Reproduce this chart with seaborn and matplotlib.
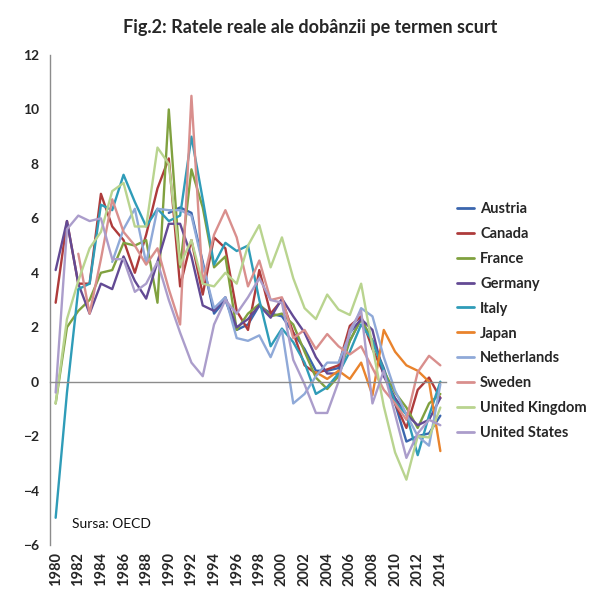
import numpy as np
import pandas as pd
import matplotlib
matplotlib.use("Agg")
import matplotlib.pyplot as plt
import seaborn as sns

years = list(range(1980, 2015))
N = np.nan

austria = [N]*10 + [6.2, 6.4, 6.2, 4.4, 2.5, 3.0, 1.9, 2.1, 2.8, 2.5,
                    2.4, 1.8, 1.2, 0.4, 0.4, 0.5, 1.5, 2.3, 1.5, 0.5,
                    -0.8, -2.2, -2.0, -1.9, -1.25]
canada = [2.9, 5.9, 3.6, 3.6, 6.9, 5.7, 5.2, 4.0, 5.4, 7.1,
          8.2, 3.5, 5.2, 3.2, 5.3, 4.9, 2.6, 1.9, 4.1, 2.5,
          3.0, 1.8, 0.6, 0.3, 0.45, 0.6, 2.05, 2.4, 1.2, 0.3,
          -0.8, -1.7, -0.3, 0.15, -0.6]
france = [-0.8, 2.0, 2.6, 3.0, 4.0, 4.1, 5.1, 5.0, 5.2, 2.9,
          10.0, 4.2, 7.8, 6.4, 4.2, 4.6, 1.9, 2.5, 2.85, 2.4,
          2.5, 2.1, 1.1, 0.15, -0.27, 0.2, 1.5, 2.3, 1.5, 0.4,
          -0.4, -0.95, -1.7, -0.8, -0.45]
germany = [4.1, 5.9, 3.6, 2.5, 3.6, 3.4, 4.6, 3.7, 3.05, 4.4,
           5.8, 5.8, 4.6, 2.8, 2.6, 3.1, 2.0, 2.3, 2.8, 2.35,
           3.05, 2.4, 1.8, 0.9, 0.3, 0.3, 1.8, 2.3, 1.9, 0.2,
           -0.6, -1.2, -1.6, -1.4, -0.6]
italy = [-5.0, -0.4, 3.4, 3.6, 6.5, 6.3, 7.6, 6.6, 5.7, 6.35,
         5.9, 6.1, 9.0, 6.7, 4.3, 5.1, 4.8, 5.0, 3.0, 1.3,
         1.95, 1.45, 0.7, -0.45, -0.2, 0.3, 1.1, 2.1, 1.5, 0.4,
         -0.75, -1.2, -2.7, -1.25, 0.0]
japan = [N]*23 + [0.35, 0.1, 0.4, 0.1, 0.7, -0.5, 1.9, 1.1, 0.6, 0.4,
                  0.0, -2.55]
netherlands = [N]*5 + [4.4, 5.6, 6.35, 4.35, 6.35,
                       6.3, 6.3, 6.1, 4.3, 2.7, 3.1, 1.6, 1.5, 1.7, 0.9,
                       1.9, -0.8, -0.45, 0.2, 0.7, 0.7, 1.75, 2.7, 2.4, 0.9,
                       -0.33, -1.2, -2.0, -2.35, -0.1]
sweden = [N, N, 4.7, 2.5, 4.5, 6.7, 5.5, 5.0, 4.3, 4.9,
          3.4, 2.1, 10.5, 3.6, 5.4, 6.3, 5.3, 3.5, 4.45, 3.0,
          3.1, 1.6, 1.9, 1.2, 1.75, 1.3, 1.0, 1.3, 0.5, -0.3,
          -0.8, -1.4, 0.35, 0.95, 0.6]
uk = [-0.8, 2.3, 3.7, 4.9, 5.5, 7.0, 7.3, 5.7, 5.7, 8.6,
      8.0, 4.3, 5.2, 3.6, 3.5, 4.0, 3.6, 5.0, 5.75, 4.2,
      5.3, 3.8, 2.7, 2.3, 3.2, 2.65, 2.45, 3.6, 1.3, -0.9,
      -2.6, -3.6, -2.0, -2.05, -0.95]
us = [-0.4, 5.6, 6.1, 5.9, 6.0, 4.5, 4.5, 3.3, 3.6, 4.4,
      3.0, 1.8, 0.7, 0.2, 2.1, 3.0, 2.5, 3.1, 3.8, 3.0,
      2.9, 0.8, -0.1, -1.15, -1.15, 0.0, 1.9, 2.6, -0.8, 0.4,
      -1.2, -2.8, -1.9, -1.4, -1.6]

countries = ["Austria", "Canada", "France", "Germany", "Italy", "Japan",
             "Netherlands", "Sweden", "United Kingdom", "United States"]
series = [austria, canada, france, germany, italy, japan,
          netherlands, sweden, uk, us]
colors = ["#3B66AE", "#AE3B3B", "#80A13F", "#634A94", "#2F9CB8",
          "#E9832C", "#8FA9D8", "#D98F8D", "#B9D48F", "#AB9DCB"]

title = "Fig.2: Ratele reale ale dobânzii pe termen scurt"
source = "Sursa: OECD"

rows = []
for c, vals in zip(countries, series):
    for y, v in zip(years, vals):
        rows.append({"Year": y, "Country": c, "Value": v})
df = pd.DataFrame(rows).dropna()

sns.set_style("white")
plt.rcParams["font.family"] = ["Lato", "DejaVu Sans"]

fig = plt.figure(figsize=(5.94, 5.90), dpi=100)
ax = fig.add_axes([50/594, 1-545/590, (446-50)/594, (545-55)/590])

sns.lineplot(data=df, x="Year", y="Value", hue="Country", hue_order=countries,
             palette=colors, estimator=None, linewidth=1.7, ax=ax, legend=True)

ax.set_xlim(1979.5, 2014.5)
ax.set_ylim(-6, 12)
ax.set_xlabel("")
ax.set_ylabel("")

gray = "#8C8C8C"
for s in ["top", "right"]:
    ax.spines[s].set_visible(False)
ax.spines["left"].set_color(gray)
ax.spines["left"].set_linewidth(1.0)
ax.spines["bottom"].set_position(("data", 0))
ax.spines["bottom"].set_color(gray)
ax.spines["bottom"].set_linewidth(1.0)

ax.set_yticks(np.arange(-6, 13, 2))
ax.tick_params(axis="y", direction="out", length=5, color=gray, width=1.0,
               labelsize=10, pad=3)
for t in ax.get_yticklabels():
    t.set_fontweight("bold")

ax.set_xticks(np.arange(1979.5, 2015, 1))
ax.set_xticklabels([])
ax.tick_params(axis="x", direction="out", length=4, color=gray, width=1.0)

sec = ax.secondary_xaxis("bottom")
sec.set_xticks(years[::2])
sec.set_xticklabels([str(y) for y in years[::2]], rotation=90,
                    fontweight="bold", fontsize=10.5)
sec.tick_params(length=0, pad=5)
sec.spines["bottom"].set_visible(False)

ax.text(0.055, 0.042, source, transform=ax.transAxes, fontsize=10,
        ha="left", va="center", color="#111111")

fig.text(310/594, 1-28/590, title, ha="center", va="center",
         fontsize=13, fontweight="bold")

handles, labels = ax.get_legend_handles_labels()
ax.legend_.remove()
leg = fig.legend(handles, labels, loc="upper left",
                 bbox_to_anchor=(451/594, 1-196/590), frameon=False,
                 fontsize=10.5, handlelength=1.2, handletextpad=0.4,
                 labelspacing=0.75, borderaxespad=0)
for t in leg.get_texts():
    t.set_fontweight("bold")
for l in leg.get_lines():
    l.set_linewidth(2.0)

fig.savefig("out.png", dpi=100)
